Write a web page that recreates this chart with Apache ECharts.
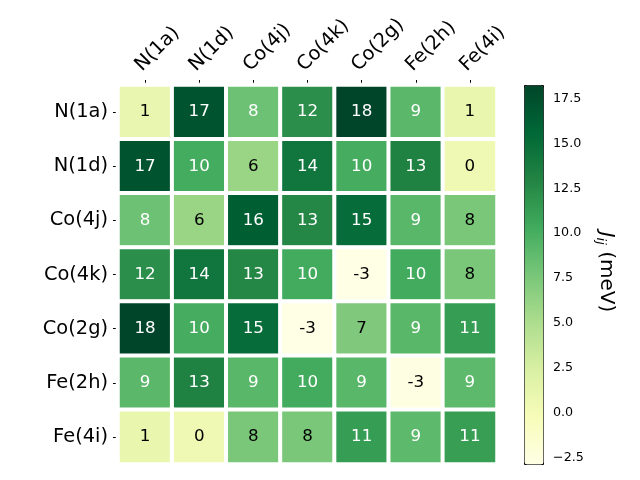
<!DOCTYPE html>
<html><head><meta charset="utf-8">
<script src="https://cdn.jsdelivr.net/npm/echarts@6/dist/echarts.min.js"></script>
<style>html,body{margin:0;padding:0;background:#fff}#c{width:640px;height:480px}</style>
</head><body><div id="c"></div>
<script>
const sites = ["N(1a)", "N(1d)", "Co(4j)", "Co(4k)", "Co(2g)", "Fe(2h)", "Fe(4i)"];
const rowN1a = [1.0, 17.2, 8.2, 12.3, 18.26, 9.1, 1.1];
const rowN1d = [17.2, 10.2, 6.0, 14.3, 10.1, 13.2, 0.4];
const rowCo4j = [8.2, 6.0, 16.4, 12.8, 15.2, 9.2, 7.6];
const rowCo4k = [12.3, 14.3, 12.8, 10.3, -2.87, 10.3, 7.6];
const rowCo2g = [18.26, 10.1, 15.2, -2.87, 7.3, 9.2, 11.3];
const rowFe2h = [9.1, 13.2, 9.2, 10.3, 9.2, -2.7, 9.0];
const rowFe4i = [1.1, 0.4, 7.6, 7.6, 11.3, 9.0, 11.2];
const colorbarTicks = [-2.5, 0, 2.5, 5, 7.5, 10, 12.5, 15, 17.5];
const vmin = -2.87, vmax = 18.26;
const ylgn = ['#ffffe5','#f7fcb9','#d9f0a3','#addd8e','#78c679','#41ab5d','#238443','#006837','#004529'];

const rows = [rowN1a, rowN1d, rowCo4j, rowCo4k, rowCo2g, rowFe2h, rowFe4i];
const threshold = (vmin + vmax) / 2;
const data = [];
rows.forEach((r, yi) => r.forEach((v, xi) => {
  data.push({value: [xi, yi, v], label: {color: v > threshold ? '#fff' : '#000'}});
}));
const FONT = 'DejaVu Sans';
const chart = echarts.init(document.getElementById('c'), null, {renderer: 'canvas'});
chart.setOption({
  animation: false,
  textStyle: {fontFamily: FONT},
  grid: [
    {left: 118, top: 85, width: 379, height: 379, containLabel: false},
    {left: 524, top: 85, width: 19, height: 379, containLabel: false}
  ],
  xAxis: [
    {type: 'category', data: sites, position: 'top', gridIndex: 0,
     axisLine: {show: false}, splitLine: {show: false},
     axisTick: {show: true, alignWithLabel: true, length: 5, lineStyle: {color: '#000'}},
     axisLabel: {rotate: -45, fontSize: 19.4, color: '#000', fontFamily: FONT, margin: 10, interval: 0,
       align: 'left', verticalAlign: 'bottom'}},
    {type: 'value', gridIndex: 1, show: false, min: 0, max: 1}
  ],
  yAxis: [
    {type: 'category', data: sites, inverse: true, gridIndex: 0,
     axisLine: {show: false}, splitLine: {show: false},
     axisTick: {show: true, alignWithLabel: true, length: 5, lineStyle: {color: '#000'}},
     axisLabel: {fontSize: 19.4, color: '#000', fontFamily: FONT, margin: 10, interval: 0}},
    {type: 'value', gridIndex: 1, position: 'right', min: vmin, max: vmax,
     axisLine: {show: false}, splitLine: {show: false},
     axisTick: {show: true, length: 5, lineStyle: {color: '#000'}, customValues: colorbarTicks},
     axisLabel: {fontSize: 12.7, color: '#000', fontFamily: FONT, margin: 10,
       customValues: colorbarTicks,
       formatter: v => Number(v).toFixed(1).replace('-', '\u2212')}}
  ],
  visualMap: {
    type: 'continuous', min: vmin, max: vmax, seriesIndex: 0,
    calculable: false, realtime: false, hoverLink: false,
    itemWidth: 19, itemHeight: 379, left: 524, top: 85, padding: 0,
    text: null, showLabel: false,
    borderColor: '#000', borderWidth: 1,
    inRange: {color: ylgn}
  },
  series: [{
    type: 'heatmap', xAxisIndex: 0, yAxisIndex: 0,
    data: data,
    itemStyle: {borderColor: '#fff', borderWidth: 4},
    label: {show: true, fontSize: 16.7, fontFamily: FONT,
      formatter: p => String(Math.round(p.value[2]))},
    emphasis: {disabled: true}
  }],
  graphic: [{
    type: 'text', x: 606, y: 272, rotation: -Math.PI / 2,
    style: {
      text: '{J|J}{s|ij}{t| (meV)}',
      align: 'center', verticalAlign: 'middle',
      rich: {
        J: {fontFamily: FONT, fontStyle: 'italic', fontSize: 20, lineHeight: 24, fill: '#000'},
        s: {fontFamily: FONT, fontStyle: 'italic', fontSize: 13, lineHeight: 13, verticalAlign: 'bottom', fill: '#000'},
        t: {fontFamily: FONT, fontSize: 20, lineHeight: 24, fill: '#000'}
      }
    }
  }]
});
</script></body></html>
